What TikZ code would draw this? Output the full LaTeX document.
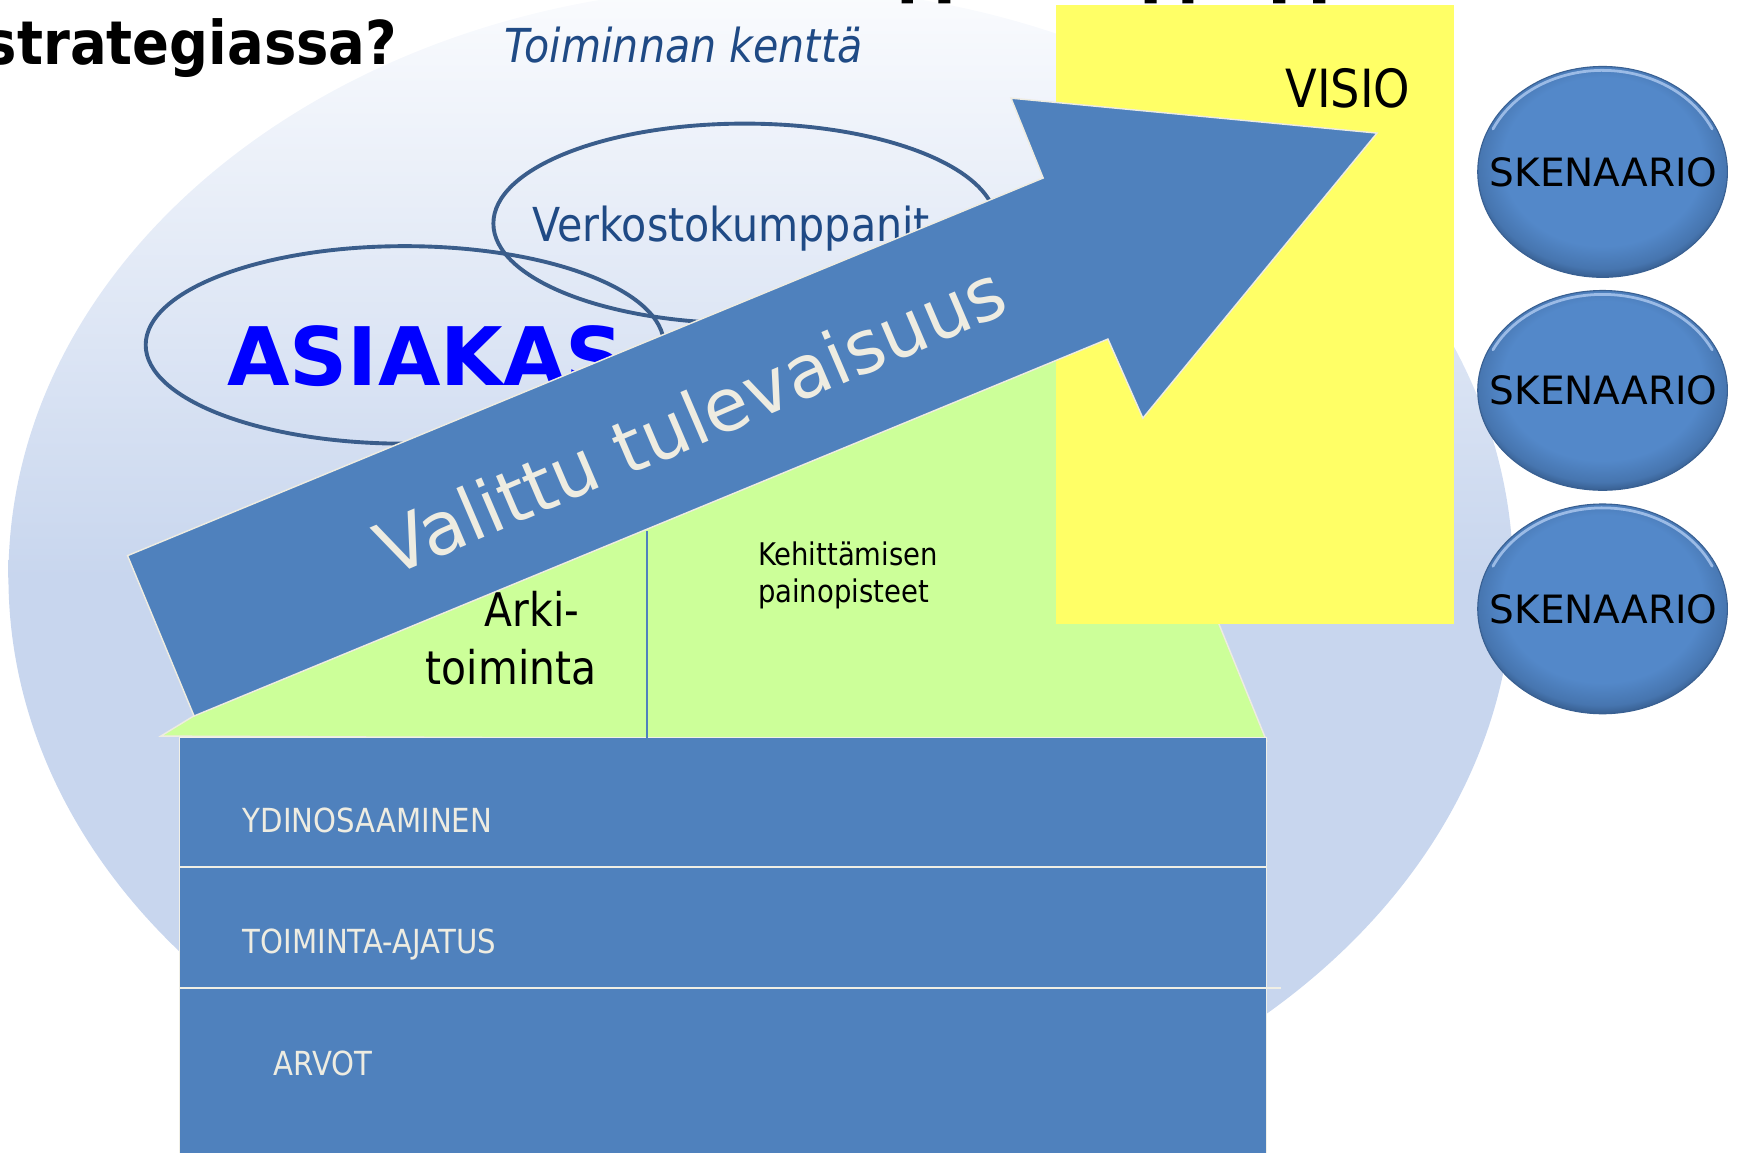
\documentclass[tikz,border=0pt]{standalone}
\usepackage{fontspec}
\setmainfont{DejaVu Sans}
\newfontfamily\cond[FakeStretch=0.88]{DejaVu Sans}
\newfontfamily\condb[FakeStretch=0.9]{DejaVu Sans Bold}
\usetikzlibrary{shapes.geometric}
\definecolor{bgb}{HTML}{C8D6EE}
\definecolor{bgt}{HTML}{FBFCFE}
\definecolor{mainblue}{HTML}{4F81BD}
\definecolor{cream}{HTML}{EEECE1}
\definecolor{grn}{HTML}{CCFF99}
\definecolor{ylw}{HTML}{FFFF66}
\definecolor{ringblue}{HTML}{3A5D8B}
\definecolor{navy}{HTML}{1F4A85}
\definecolor{skmid}{HTML}{5388C9}
\definecolor{skdark}{HTML}{2F527F}
\definecolor{skhl}{HTML}{A9C6EE}
\pgfdeclareradialshading{gloss}{\pgfpoint{0bp}{4bp}}{color(0bp)=(skmid); color(20bp)=(skmid); color(25bp)=(skmid!65!skdark); color(28bp)=(skdark); color(50bp)=(skdark)}
\begin{document}
\begin{tikzpicture}[x=0.01cm,y=-0.01cm,
  txt/.style={inner sep=0pt, outer sep=0pt},
  layertxt/.style={txt, anchor=base west, text=cream, font=\cond\fontsize{8.5}{10}\selectfont},
  ring/.style={ellipse, draw=ringblue, line width=0.035cm, inner sep=0pt},
  scenshape/.style={shade, shading=gloss, draw=skdark!70!mainblue, line width=0.01cm},
  scentxt/.style={txt, text=black, font=\fontsize{10}{12}\selectfont},
  hl/.style={draw=skhl, opacity=0.85, line width=0.025cm, line cap=round},
  shapeline/.style={draw=cream, line width=0.013cm},
  ]
\useasboundingbox (0,0) rectangle (1568,1039);
\clip (0,0) rectangle (1568,1039);

% background field
\begin{scope}
  \clip (686,520) ellipse [x radius=6.78cm, y radius=5.32cm];
  \shade[top color=bgt, bottom color=bgb] (0,-20) rectangle (1400,521);
  \fill[bgb] (0,519) rectangle (1400,1060);
\end{scope}

% title remnants
\node[txt, anchor=base east, font=\condb\fontsize{15.5}{18}\selectfont] (title) at (358,58) {strategiassa?};
\fill[black] (813,0) rectangle (823,3) (846,0) rectangle (857,3)
  (1032,0) rectangle (1043,3) (1066,0) rectangle (1076,3)
  (1148,0) rectangle (1159,3) (1184,0) rectangle (1195,3);

\node[txt, anchor=base west, text=navy, font=\cond\itshape\fontsize{12}{14}\selectfont] (kentta) at (455,56) {Toiminnan kenttä};

% partner / customer rings
\node[ring, minimum width=4.53cm, minimum height=1.80cm] (verk) at (671.5,201.5) {};
\node[txt, anchor=base west, text=navy, font=\cond\fontsize{12}{14}\selectfont] (verktxt) at (480,218) {Verkostokumppanit};
\node[ring, minimum width=4.67cm, minimum height=1.78cm] (asi) at (365,311) {};
\node[txt, anchor=base west, text=blue, font=\bfseries\fontsize{20.7}{24}\selectfont] (asiakas) at (205,348) {ASIAKAS};

% green triangle
\draw[fill=grn, shapeline] (145,663.7) -- (942,177) -- (1142,668) -- cycle;

% vision box
\fill[ylw] (952,4.5) rectangle (1311,563);
\node[txt, anchor=base west, font=\cond\fontsize{13.5}{15}\selectfont] (visio) at (1159,97) {VISIO};

% foundation
\draw[fill=mainblue, draw=cream!80!white, line width=0.012cm] (162,665) rectangle (1142,1050);
\draw[cream!85!white, line width=0.02cm] (162,781.5) -- (1142,781.5);
\draw[cream!85!white, line width=0.02cm] (162,890.6) -- (1155,890.6);
\draw[mainblue, line width=0.012cm] (583.5,479) -- (583.5,678);

\node[txt, anchor=base west, font=\cond\fontsize{11.9}{14}\selectfont] (arki1) at (437,565) {Arki-};
\node[txt, anchor=base west, font=\cond\fontsize{11.9}{14}\selectfont] (arki2) at (384,617) {toiminta};
\node[txt, anchor=base west, font=\cond\fontsize{8}{10}\selectfont] (keh1) at (683.5,510) {Kehittämisen};
\node[txt, anchor=base west, font=\cond\fontsize{8}{10}\selectfont] (keh2) at (683.5,543) {painopisteet};

\node[layertxt] (ydin) at (219,751) {YDINOSAAMINEN};
\node[layertxt] (toim) at (219,860) {TOIMINTA-AJATUS};
\node[layertxt] (arvot) at (246.7,969.5) {ARVOT};

% big arrow
\draw[fill=mainblue, shapeline, line join=miter]
  (115,501) -- (940.6,160.5) -- (911.6,88.5) -- (1241.6,120)
  -- (1030.5,377) -- (999,305.7) -- (175,645.6) -- cycle;
\node[txt, anchor=base west, rotate=23.2, text=cream, font=\fontsize{18.8}{22}\selectfont] (vt) at (352,521) {Valittu tulevaisuus};

% scenarios
\path[scenshape] (1445,155) ellipse [x radius=1.125cm, y radius=0.95cm];
\path[scenshape] (1445,352) ellipse [x radius=1.125cm, y radius=0.90cm];
\path[scenshape] (1445,549) ellipse [x radius=1.125cm, y radius=0.945cm];
\draw[hl] (1445,155) ++(155:1.09cm and 0.915cm) arc[start angle=155, end angle=25, x radius=1.09cm, y radius=0.915cm];
\draw[hl] (1445,352) ++(155:1.09cm and 0.865cm) arc[start angle=155, end angle=25, x radius=1.09cm, y radius=0.865cm];
\draw[hl] (1445,549) ++(155:1.09cm and 0.91cm) arc[start angle=155, end angle=25, x radius=1.09cm, y radius=0.91cm];
\node[scentxt] (sc1) at (1446,155) {SKENAARIO};
\node[scentxt] (sc2) at (1446,352) {SKENAARIO};
\node[scentxt] (sc3) at (1446,549) {SKENAARIO};
\end{tikzpicture}
\end{document}
